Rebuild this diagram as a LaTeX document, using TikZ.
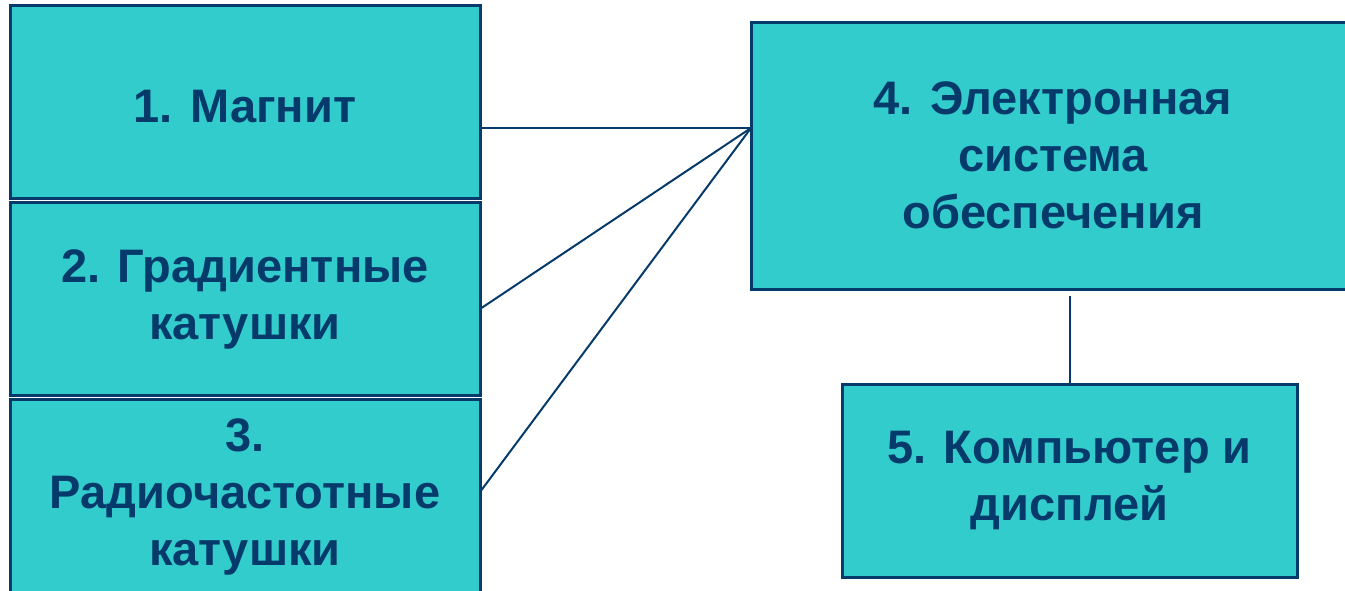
\documentclass[tikz,border=0pt]{standalone}
\usepackage{fontspec}
\setmainfont{Liberation Sans}
\definecolor{boxfill}{HTML}{33CCCC}
\definecolor{navy}{HTML}{063A6B}
\begin{document}
\begin{tikzpicture}[x=1pt,y=-1pt,
  box/.style={draw=navy,line width=3pt,fill=boxfill,inner sep=0pt,
    text=navy,font=\fontsize{47}{57}\selectfont\bfseries,align=center,
    execute at begin node={\rule{0pt}{42pt}}},
  link/.style={draw=navy,line width=2pt}]
\useasboundingbox (0,0) rectangle (1345,590);
\clip (0,0) rectangle (1345,590);
\node[box,minimum width=470pt,minimum height=193pt] (b1) at (245,101.5) {1. Магнит};
\node[box,minimum width=470pt,minimum height=193pt] (b2) at (245,299) {2. Градиентные\\катушки};
\node[box,minimum width=470pt,minimum height=196pt] (b3) at (245,497) {3.\\Радиочастотные\\катушки};
\node[box,minimum width=604pt,minimum height=267pt] (b4) at (1053,155.5) {4. Электронная\\система\\обеспечения};
\node[box,minimum width=455pt,minimum height=193pt] (b5) at (1069.5,480.5) {5. Компьютер и\\дисплей};
\coordinate (hub) at (751,128);
\draw[link] (b1.east |- hub) -- (hub);
\draw[link] ([yshift=-9pt]b2.east) -- (hub);
\draw[link] ([yshift=7pt]b3.east) -- (hub);
\draw[link] (b5.north) -- ([yshift=-5pt]b5.north |- b4.south);
\end{tikzpicture}
\end{document}
